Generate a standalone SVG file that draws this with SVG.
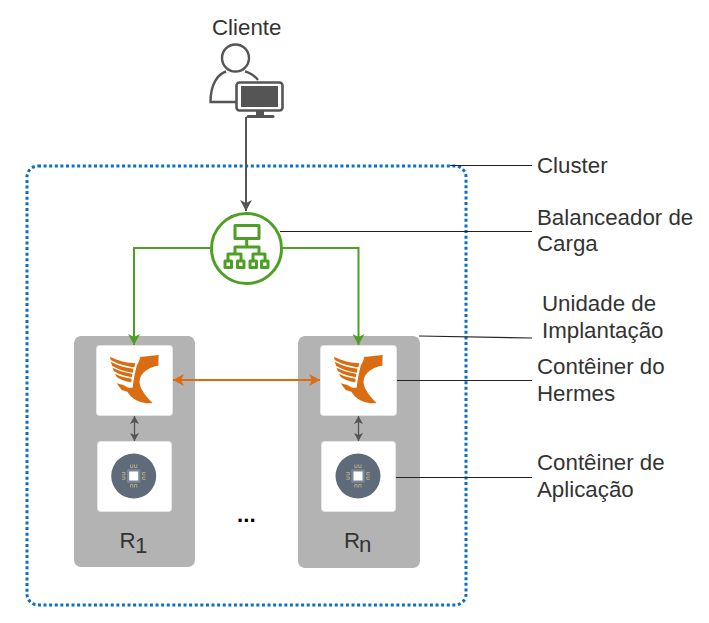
<svg xmlns="http://www.w3.org/2000/svg" width="709" height="623" viewBox="0 0 709 623">
<style>
text{font-family:"Liberation Sans",Arial,sans-serif;font-size:22.3px;fill:#333}
.pod{fill:#b3b3b3}
.box{fill:#fff;stroke:#e6e6e6;stroke-width:1}
.lead{fill:none;stroke:#222;stroke-width:1.2}
.gl{fill:none;stroke:#4f9f24;stroke-width:2}
.ic{fill:none;stroke:#4f9f24;stroke-width:3;stroke-linejoin:round}
.dk{fill:none;stroke:#555;stroke-width:2}
.or{fill:none;stroke:#d96d13;stroke-width:2}
</style>
<defs>
<marker id="mg" markerUnits="userSpaceOnUse" markerWidth="12" markerHeight="12" refX="11" refY="6" orient="auto"><path d="M0 0L11 6L0 12L3 6Z" fill="#4f9f24"/></marker>
<marker id="md" markerUnits="userSpaceOnUse" markerWidth="12" markerHeight="12" refX="11" refY="6" orient="auto"><path d="M0 0L11 6L0 12L3 6Z" fill="#555"/></marker>
<marker id="mo" markerUnits="userSpaceOnUse" markerWidth="12" markerHeight="12" refX="11" refY="6" orient="auto-start-reverse"><path d="M0 0L11 6L0 12L3 6Z" fill="#d96d13"/></marker>
<marker id="ms" markerUnits="userSpaceOnUse" markerWidth="9" markerHeight="9" refX="8" refY="4.500" orient="auto-start-reverse"><path d="M0 0L8 4.500L0 9L2 4.500Z" fill="#555"/></marker>
<g id="logo" transform="translate(90 335) scale(.3333)" fill="#d96d13">
<path d="M150 66L206 60L205 92C180 96 160 108 152 125C144 145 150 165 188 204C165 208 140 200 122 184L112 170L95 165L80 145L100 150L115 158L128 158C130 135 134 118 140 92C143 85 150 78 150 66Z"/>
<path d="M60 65C85 78 110 83 136 85L133 97C110 94 80 86 62 75Z"/>
<path d="M63 80C85 92 105 98 130 101L129 113C105 110 85 103 66 92Z"/>
<path d="M68 98C85 107 105 112 127 116L126 127C105 124 85 118 72 109Z"/>
<path d="M75 116C85 123 105 128 125 131L124 142C105 139 90 134 80 126Z"/>
</g>
<g id="chip">
<circle cx="133.700" cy="476" r="22.500" fill="#5f6b7a"/>
<rect x="127" y="469.300" width="13.400" height="13.400" rx="1.500" fill="#7d8896"/>
<rect x="129.200" y="471.500" width="9" height="9" fill="#fff"/>
<path fill="none" stroke="#c4b684" stroke-width=".8" d="M130.500 464.500v3h2.300v-3M134.500 464.500v3h2.300v-3M130.500 487.500v-3h2.300v3M134.500 487.500v-3h2.300v3M122 472.500h3v2.300h-3M122 477h3v2.300h-3M145.500 472.500h-3v2.300h3M145.500 477h-3v2.300h3"/>
</g>
</defs>

<g id="cluster"><rect x="27" y="166" width="439" height="439" rx="11" fill="none" stroke="#0b6fc4" stroke-width="3" stroke-dasharray="3 2.600"/></g>

<g id="pod-r1">
<rect class="pod" x="74" y="336" width="121" height="231" rx="7"/>
<text x="119.500" y="548">R</text><text x="135" y="553">1</text>
</g>
<g id="pod-rn">
<rect class="pod" x="298" y="336" width="122" height="232" rx="7"/>
<text x="344" y="548">R</text><text x="359" y="552">n</text>
</g>
<g id="hermes-r1"><rect class="box" x="96.500" y="345.500" width="76" height="70" rx="3"/><use href="#logo"/></g>
<g id="app-r1"><rect class="box" x="97.500" y="441.500" width="74" height="70" rx="3"/><use href="#chip"/></g>
<g id="hermes-rn"><rect class="box" x="320.500" y="345.500" width="76" height="70" rx="3"/><use href="#logo" x="224"/></g>
<g id="app-rn"><rect class="box" x="321.500" y="441.500" width="74" height="70" rx="3"/><use href="#chip" x="224.300"/></g>

<g id="connectors">
<path class="dk" d="M246 117V211" marker-end="url(#md)"/>
<path class="gl" d="M211 248H134V345" marker-end="url(#mg)"/>
<path class="gl" d="M282 248H358.500V345" marker-end="url(#mg)"/>
<path class="or" d="M173 380H320" marker-start="url(#mo)" marker-end="url(#mo)"/>
<path d="M134.500 416V441" class="dk" style="stroke-width:1.300" marker-start="url(#ms)" marker-end="url(#ms)"/>
<path d="M358.500 416V441" class="dk" style="stroke-width:1.300" marker-start="url(#ms)" marker-end="url(#ms)"/>
<path class="lead" d="M450 165.500H532"/>
<path class="lead" d="M280 231.500H532"/>
<path class="lead" d="M419 336L532 338"/>
<path class="lead" d="M397 380.500H532"/>
<path class="lead" d="M396 477.500H532"/>
</g>

<g id="cliente">
<text x="212" y="35">Cliente</text>
<circle cx="235.500" cy="58" r="13.500" fill="#fff" stroke="#555" stroke-width="2.400"/>
<path d="M258 80C254 75 248 72 245 71.500M226 71.500C218 74 210.500 84 210.500 102H240" fill="none" stroke="#555" stroke-width="2.400"/>
<rect x="236.500" y="82.500" width="46" height="28" rx="3" fill="#fff" stroke="#555" stroke-width="2.600"/>
<rect x="241" y="86" width="37" height="21" fill="#555"/>
<path d="M256 111h8v4h-8z" fill="#555"/>
<path d="M248 116.500h25" stroke="#555" stroke-width="3" stroke-linecap="round"/>
</g>

<g id="balanceador">
<circle cx="246.500" cy="248.500" r="35" fill="#fff" stroke="#4f9f24" stroke-width="3"/>
<rect class="ic" x="235" y="225.500" width="24" height="13"/>
<path class="ic" d="M246.700 239V247M235 254V247H259V254M228 261V254H241V261M253 261V254H265V261"/>
<rect class="ic" x="225" y="261" width="6.500" height="6.500"/><rect class="ic" x="237.500" y="261" width="6.500" height="6.500"/><rect class="ic" x="250" y="261" width="6.500" height="6.500"/><rect class="ic" x="261.500" y="261" width="6.500" height="6.500"/>
</g>

<text id="ellipsis" x="237" y="522" style="font-weight:bold;fill:#000">...</text>
<g id="labels">
<text x="537" y="173">Cluster</text>
<text x="537" y="225">Balanceador de</text>
<text x="537" y="251">Carga</text>
<text x="542" y="311">Unidade de</text>
<text x="542" y="338">Implantação</text>
<text x="537" y="374">Contêiner do</text>
<text x="537" y="401">Hermes</text>
<text x="537" y="470">Contêiner de</text>
<text x="537" y="497">Aplicação</text>
</g>
</svg>
